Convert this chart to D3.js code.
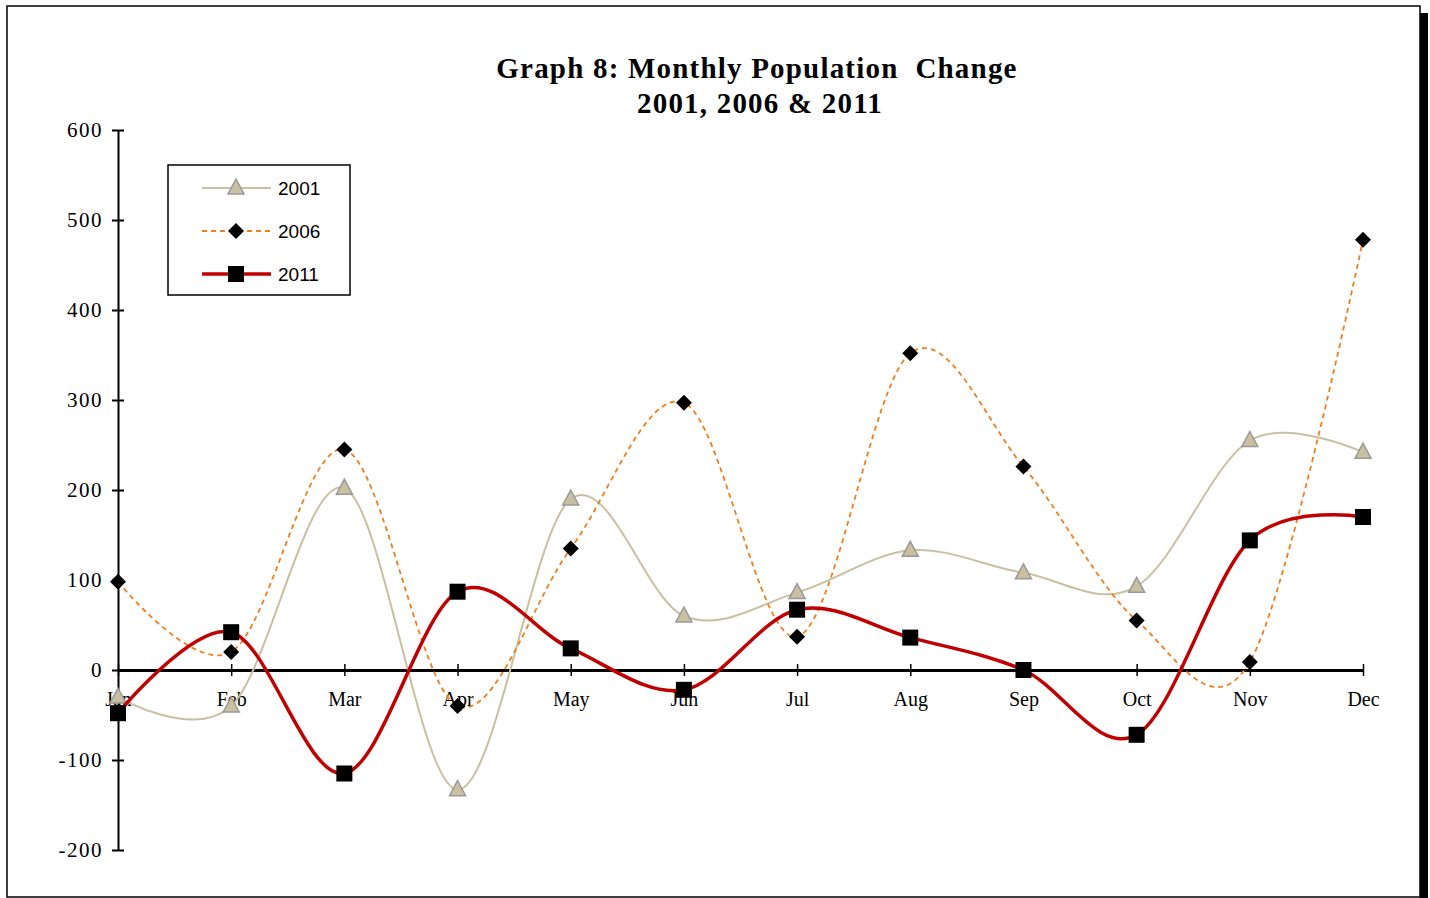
<!DOCTYPE html>
<html>
<head>
<meta charset="utf-8">
<script src="https://cdn.jsdelivr.net/npm/d3@7"></script>
<style>
  body { margin: 0; background: #fff; }
  svg { display: block; }
</style>
</head>
<body>
<div id="chart"></div>
<script>
// data
const months = ["Jan","Feb","Mar","Apr","May","Jun","Jul","Aug","Sep","Oct","Nov","Dec"];
const v2001 = [-30, -40, 202, -133, 190, 60, 86, 133, 108, 93, 255, 242];
const v2006 = [98, 20, 245, -40, 135, 297, 37, 352, 226, 55, 9, 478];
const v2011 = [-48, 42, -115, 87, 24, -22, 67, 36, 0, -72, 144, 170];
const yTicks = [-200, -100, 0, 100, 200, 300, 400, 500, 600];

let width = 1430, height = 898;
const serif = "'Liberation Serif', 'Times New Roman', serif";

let svg = d3.select("#chart").append("svg")
  .attr("width", width)
  .attr("height", height);

// frame + shadow
svg.append("rect")
  .attr("x", 1420).attr("y", 13).attr("width", 8).attr("height", 890)
  .attr("fill", "#000");
svg.append("rect")
  .attr("x", 7).attr("y", 6).attr("width", 1413).attr("height", 891)
  .attr("fill", "#fff").attr("stroke", "#000").attr("stroke-width", 1.5);

let x = d3.scalePoint().domain(months).range([118, 1363]);
let y = d3.scaleLinear().domain([-200, 600]).range([850, 130]);

// title
let title = svg.append("text")
  .attr("text-anchor", "middle")
  .attr("font-family", serif)
  .attr("font-weight", "bold")
  .attr("font-size", 29)
  .attr("letter-spacing", 1.2);
title.append("tspan").attr("x", 757).attr("y", 78).text("Graph 8: Monthly Population  Change")
  .attr("xml:space", "preserve").style("white-space", "pre");
title.append("tspan").attr("x", 760).attr("y", 113).text("2001, 2006 & 2011");

// y axis
let axeY = d3.axisLeft(y).tickValues(yTicks).tickSize(0).tickPadding(15)
  .tickFormat(d => d < 0 ? "-" + Math.abs(d) : d);
let gy = svg.append("g").attr("transform", "translate(118,0)").call(axeY)
  .attr("font-family", serif);
gy.select(".domain").attr("stroke", "#000").attr("stroke-width", 2);
gy.selectAll(".tick").append("line")
  .attr("x1", -6).attr("x2", 6).attr("stroke", "#000").attr("stroke-width", 2);
gy.selectAll("text")
  .style("font-family", serif)
  .attr("font-size", 21).attr("letter-spacing", 1.5).attr("fill", "#000");

// x axis on zero
let axeX = d3.axisBottom(x).tickSize(0).tickPadding(22);
let gx = svg.append("g").attr("transform", `translate(0,${y(0)})`).call(axeX)
  .attr("font-family", serif);
gx.select(".domain").attr("stroke", "#000").attr("stroke-width", 3);
gx.selectAll(".tick").append("line")
  .attr("y1", -6).attr("y2", 6).attr("stroke", "#000").attr("stroke-width", 1.5);
gx.selectAll("text")
  .style("font-family", serif)
  .attr("font-size", 20).attr("fill", "#000");

let line = d3.line()
  .x((d, i) => x(months[i]))
  .y(d => y(d))
  .curve(d3.curveCardinal.tension(0));

let series = [
  { name: "2001", values: v2001, color: "#c8c0a0", width: 2, dash: null, marker: "tri" },
  { name: "2006", values: v2006, color: "#f07e1c", width: 1.8, dash: "5,4", marker: "dia" },
  { name: "2011", values: v2011, color: "#c00000", width: 3.5, dash: null, marker: "sq" }
];

function drawMarker(g, type, cx, cy) {
  if (type === "tri") {
    g.append("path")
      .attr("d", `M${cx},${cy-9} L${cx+8},${cy+6} L${cx-8},${cy+6} Z`)
      .attr("fill", "#c8c0a0").attr("stroke", "#999").attr("stroke-width", 1.5);
  } else if (type === "dia") {
    g.append("path")
      .attr("d", `M${cx},${cy-8} L${cx+8},${cy} L${cx},${cy+8} L${cx-8},${cy} Z`)
      .attr("fill", "#000");
  } else {
    g.append("rect")
      .attr("x", cx - 8).attr("y", cy - 8).attr("width", 16).attr("height", 16)
      .attr("fill", "#000");
  }
}

series.forEach(s => {
  let g = svg.append("g");
  g.append("path")
    .attr("d", line(s.values))
    .attr("fill", "none")
    .attr("stroke", s.color)
    .attr("stroke-width", s.width)
    .attr("stroke-dasharray", s.dash);
  s.values.forEach((v, i) => drawMarker(g, s.marker, x(months[i]), y(v)));
});

// legend
let leg = svg.append("g");
leg.append("rect")
  .attr("x", 168).attr("y", 165).attr("width", 182).attr("height", 130)
  .attr("fill", "#fff").attr("stroke", "#000").attr("stroke-width", 1.5);
series.forEach((s, i) => {
  let ly = 188 + i * 43;
  leg.append("line")
    .attr("x1", 202).attr("x2", 271).attr("y1", ly).attr("y2", ly)
    .attr("stroke", s.color).attr("stroke-width", s.width)
    .attr("stroke-dasharray", s.dash);
  drawMarker(leg, s.marker, 236, ly);
  leg.append("text")
    .attr("x", 278).attr("y", ly + 7)
    .attr("font-family", "'Liberation Sans', Arial, sans-serif")
    .attr("font-size", 19)
    .text(s.name);
});
</script>
</body>
</html>
